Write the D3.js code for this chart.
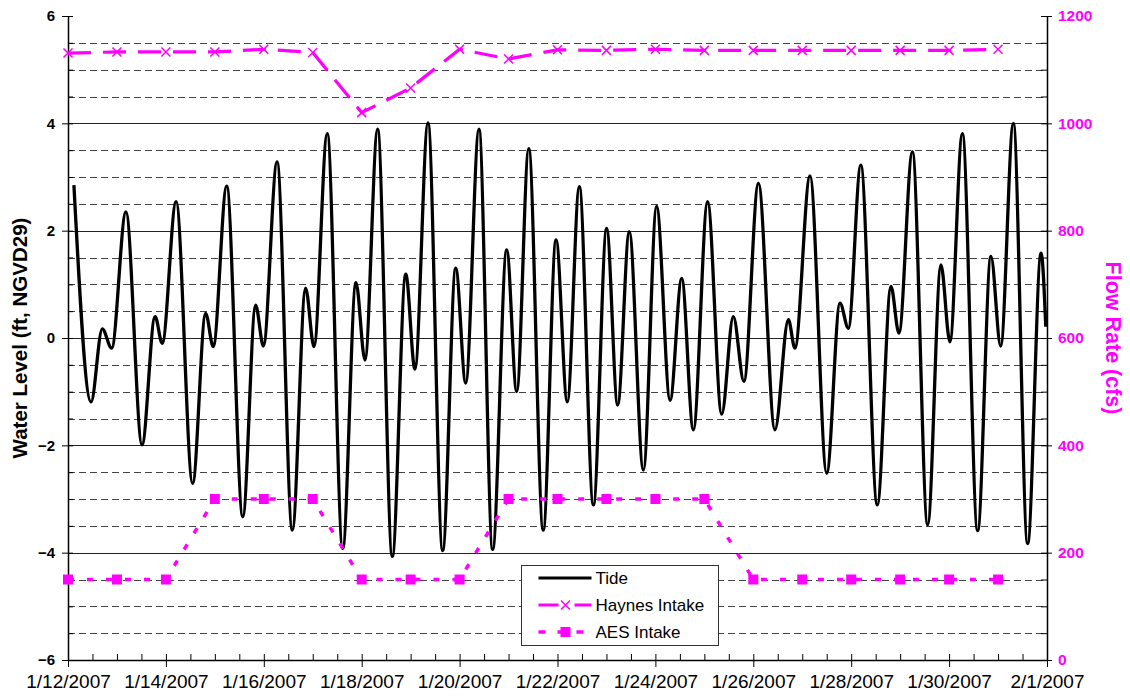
<!DOCTYPE html>
<html>
<head>
<meta charset="utf-8">
<script src="https://cdn.jsdelivr.net/npm/d3@7"></script>
<style>
  html, body { margin: 0; padding: 0; background: #fff; }
  svg { display: block; font-family: "Liberation Sans", Arial, sans-serif; }
</style>
</head>
<body>
<svg id="chart" width="1130" height="700"></svg>
<script>
// ---- Tide record: turning points (hours after 1/12/2007 00:00, water level in ft NGVD29)
const tideHours = [
  2.9, 11.3, 16.8, 21.4, 28.4, 36.3, 42.7, 46.2, 53.0, 61.1,
  67.5, 71.2, 77.8, 85.7, 92.0, 95.8, 102.5, 110.0, 116.5, 120.6,
  127.1, 134.7, 141.2, 145.6, 151.8, 159.0, 165.6, 170.1, 176.5, 183.7,
  190.1, 195.0, 201.5, 208.2, 215.1, 220.0, 225.9, 233.0, 239.3, 244.8,
  250.7, 257.6, 264.1, 269.5, 275.2, 282.1, 288.6, 295.2, 300.9, 306.6,
  313.6, 320.5, 326.2, 331.4, 338.5, 346.6, 353.2, 356.4, 363.8, 372.0,
  378.5, 382.6, 388.7, 396.8, 403.5, 407.4, 414.0, 421.5, 428.0, 432.4,
  438.5, 446.0, 452.5, 457.3, 463.5, 470.5, 477.1, 479.4
];
const tideLevel = [
  2.85, -1.19, 0.17, -0.19, 2.35, -1.99, 0.40, -0.10, 2.54, -2.71,
  0.46, -0.16, 2.83, -3.33, 0.61, -0.15, 3.28, -3.58, 0.93, -0.16,
  3.81, -3.92, 1.03, -0.41, 3.89, -4.07, 1.19, -0.58, 4.01, -3.96,
  1.30, -0.84, 3.89, -3.94, 1.64, -1.00, 3.53, -3.58, 1.83, -1.19,
  2.82, -3.11, 2.04, -1.25, 1.98, -2.46, 2.45, -1.16, 1.11, -1.71,
  2.54, -1.42, 0.40, -0.81, 2.88, -1.71, 0.34, -0.19, 3.02, -2.52,
  0.65, 0.18, 3.22, -3.11, 0.96, 0.09, 3.47, -3.48, 1.36, -0.07,
  3.81, -3.59, 1.52, -0.15, 4.00, -3.83, 1.58, 0.21
];

// ---- Daily intake flows (cfs)
const intakeDates = [
  "1/12/2007", "1/13/2007", "1/14/2007", "1/15/2007", "1/16/2007",
  "1/17/2007", "1/18/2007", "1/19/2007", "1/20/2007", "1/21/2007",
  "1/22/2007", "1/23/2007", "1/24/2007", "1/25/2007", "1/26/2007",
  "1/27/2007", "1/28/2007", "1/29/2007", "1/30/2007", "1/31/2007"
];
const haynesFlow = [
  1131, 1133, 1133, 1133, 1138, 1132, 1020, 1066, 1138, 1120,
  1137, 1136, 1138, 1136, 1136, 1136, 1136, 1136, 1136, 1138
];
const aesFlow = [
  150, 150, 150, 300, 300, 300, 150, 150, 150, 300,
  300, 300, 300, 300, 150, 150, 150, 150, 150, 150
];

// ---- Axis ticks
const xTickLabels = [
  "1/12/2007", "1/14/2007", "1/16/2007", "1/18/2007", "1/20/2007", "1/22/2007",
  "1/24/2007", "1/26/2007", "1/28/2007", "1/30/2007", "2/1/2007"
];
const levelTicks = [-6, -4, -2, 0, 2, 4, 6];
const flowTicks = [0, 200, 400, 600, 800, 1000, 1200];

const parseDate = d3.timeParse("%m/%d/%Y");
const fmtDate = d3.timeFormat("%-m/%-d/%Y");
const t0 = parseDate("1/12/2007");
const t1 = parseDate("2/1/2007");

const plot = { left: 68, right: 1047, top: 16, bottom: 660 };
const MAGENTA = "#ff00ff";

const svg = d3.select("#chart");

const x = d3.scaleTime().domain([t0, t1]).range([plot.left, plot.right]);
const yL = d3.scaleLinear().domain([-6, 6]).range([plot.bottom, plot.top]);
const yR = d3.scaleLinear().domain([0, 1200]).range([plot.bottom, plot.top]);

// ---- Horizontal grid: solid at every 2 ft, dashed at every half foot
const gridVals = d3.range(-5.5, 6, 0.5);
svg.append("g").selectAll("line")
  .data(gridVals)
  .join("line")
  .attr("x1", plot.left).attr("x2", plot.right)
  .attr("y1", d => Math.round(yL(d)) + 0.5).attr("y2", d => Math.round(yL(d)) + 0.5)
  .attr("stroke", d => (Math.abs(d % 2) < 1e-9) ? "#222" : "#444")
  .attr("stroke-width", 1)
  .attr("stroke-dasharray", d => (Math.abs(d % 2) < 1e-9) ? null : "7,4");

// ---- Axes
const axisStyle = g => {
  g.select(".domain").attr("stroke", "#000").attr("stroke-width", 1.5);
  g.selectAll(".tick line").attr("stroke", "#000").attr("stroke-width", 1);
};

// left: major ticks outside, minor half-foot ticks inside
svg.append("g")
  .attr("transform", `translate(${plot.left},0)`)
  .call(d3.axisRight(yL).tickValues(d3.range(-6, 6.01, 0.5)).tickSize(5).tickFormat(""))
  .call(g => g.select(".domain").remove())
  .call(g => g.selectAll(".tick line").attr("stroke", "#000"));
svg.append("g")
  .attr("transform", `translate(${plot.left},0)`)
  .call(d3.axisLeft(yL).tickValues(levelTicks).tickSize(6).tickPadding(7).tickSizeOuter(0))
  .call(axisStyle)
  .call(g => g.selectAll("text")
    .attr("font-size", 15).attr("font-weight", "bold").attr("fill", "#000")
    .attr("font-family", "'Liberation Sans', Arial, sans-serif"));

// right: flow axis
svg.append("g")
  .attr("transform", `translate(${plot.right},0)`)
  .call(d3.axisLeft(yR).tickValues(d3.range(0, 1201, 50)).tickSize(6).tickFormat(""))
  .call(g => g.select(".domain").remove())
  .call(g => g.selectAll(".tick line").attr("stroke", "#000"));
svg.append("g")
  .attr("transform", `translate(${plot.right},0)`)
  .call(d3.axisRight(yR).tickValues(flowTicks).tickFormat(d3.format("d"))
    .tickSize(5).tickPadding(6).tickSizeOuter(0))
  .call(axisStyle)
  .call(g => g.selectAll("text")
    .attr("font-size", 15.5).attr("font-weight", "bold").attr("fill", MAGENTA)
    .attr("font-family", "'Liberation Sans', Arial, sans-serif"));

// bottom: date axis with 12-hour minor ticks
const xMajor = xTickLabels.map(parseDate);
svg.append("g")
  .attr("transform", `translate(0,${plot.bottom})`)
  .call(d3.axisTop(x).ticks(d3.timeHour.every(12)).tickSize(6).tickFormat(""))
  .call(g => g.select(".domain").remove())
  .call(g => g.selectAll(".tick line").attr("stroke", "#000"));
svg.append("g")
  .attr("transform", `translate(0,${plot.bottom})`)
  .call(d3.axisBottom(x).tickValues(xMajor).tickFormat(fmtDate).tickSize(7).tickPadding(8).tickSizeOuter(0))
  .call(axisStyle)
  .call(g => g.selectAll("text")
    .attr("font-size", 19).attr("fill", "#000")
    .attr("font-family", "'Liberation Sans', Arial, sans-serif"));

// ---- Axis titles
svg.append("text")
  .attr("transform", `translate(27,${(plot.top + plot.bottom) / 2}) rotate(-90)`)
  .attr("text-anchor", "middle")
  .attr("font-size", 20.5).attr("font-weight", "bold").attr("fill", "#000")
  .text("Water Level (ft, NGVD29)");
svg.append("text")
  .attr("transform", `translate(1106,${(plot.top + plot.bottom) / 2}) rotate(90)`)
  .attr("text-anchor", "middle")
  .attr("font-size", 21.5).attr("font-weight", "bold").attr("fill", MAGENTA)
  .text("Flow Rate (cfs)");

// ---- Tide line
const tideData = tideHours.map((h, i) => ({ t: d3.timeMinute.offset(t0, Math.round(h * 60)), v: tideLevel[i] }));
const tideLine = d3.line().x(d => x(d.t)).y(d => yL(d.v)).curve(d3.curveMonotoneX);
svg.append("path")
  .datum(tideData)
  .attr("d", tideLine)
  .attr("fill", "none").attr("stroke", "#000").attr("stroke-width", 3.3)
  .attr("stroke-linejoin", "round");

// ---- Intake series (secondary axis)
const haynesData = intakeDates.map((d, i) => ({ t: parseDate(d), v: haynesFlow[i] }));
const aesData = intakeDates.map((d, i) => ({ t: parseDate(d), v: aesFlow[i] }));
const flowLine = d3.line().x(d => x(d.t)).y(d => yR(d.v));

svg.append("path")
  .datum(haynesData)
  .attr("d", flowLine)
  .attr("fill", "none").attr("stroke", MAGENTA).attr("stroke-width", 3.2)
  .attr("stroke-dasharray", "23,12");
const xMark = s => `M${-s},${-s}L${s},${s}M${-s},${s}L${s},${-s}`;
svg.append("g").selectAll("path")
  .data(haynesData)
  .join("path")
  .attr("transform", d => `translate(${x(d.t)},${yR(d.v)})`)
  .attr("d", xMark(4.5))
  .attr("fill", "none").attr("stroke", MAGENTA).attr("stroke-width", 1.5);

svg.append("path")
  .datum(aesData)
  .attr("d", flowLine)
  .attr("fill", "none").attr("stroke", MAGENTA).attr("stroke-width", 3.5)
  .attr("stroke-dasharray", "6,13");
svg.append("g").selectAll("rect")
  .data(aesData)
  .join("rect")
  .attr("x", d => x(d.t) - 5).attr("y", d => yR(d.v) - 5)
  .attr("width", 10).attr("height", 10)
  .attr("fill", MAGENTA);

// ---- Legend
const lg = svg.append("g").attr("transform", "translate(521.5,565.5)");
lg.append("rect").attr("width", 197).attr("height", 80)
  .attr("fill", "#fff").attr("stroke", "#333").attr("stroke-width", 1);
const rows = [
  { name: "Tide", y: 12.5 },
  { name: "Haynes Intake", y: 39.5 },
  { name: "AES Intake", y: 66.5 }
];
// Tide key
lg.append("line").attr("x1", 17).attr("x2", 70).attr("y1", rows[0].y).attr("y2", rows[0].y)
  .attr("stroke", "#000").attr("stroke-width", 3.2);
// Haynes key
lg.append("line").attr("x1", 17).attr("x2", 70).attr("y1", rows[1].y).attr("y2", rows[1].y)
  .attr("stroke", MAGENTA).attr("stroke-width", 3.2).attr("stroke-dasharray", "20,16");
lg.append("path").attr("transform", `translate(44,${rows[1].y})`).attr("d", xMark(4.5))
  .attr("fill", "none").attr("stroke", MAGENTA).attr("stroke-width", 1.5);
// AES key
lg.append("line").attr("x1", 17).attr("x2", 70).attr("y1", rows[2].y).attr("y2", rows[2].y)
  .attr("stroke", MAGENTA).attr("stroke-width", 3.5).attr("stroke-dasharray", "7,12");
lg.append("rect").attr("x", 39).attr("y", rows[2].y - 5).attr("width", 10).attr("height", 10)
  .attr("fill", MAGENTA);
lg.selectAll("text.key")
  .data(rows)
  .join("text")
  .attr("class", "key")
  .attr("x", 74).attr("y", d => d.y + 6)
  .attr("font-size", 17).attr("fill", "#000")
  .text(d => d.name);
</script>
</body>
</html>
